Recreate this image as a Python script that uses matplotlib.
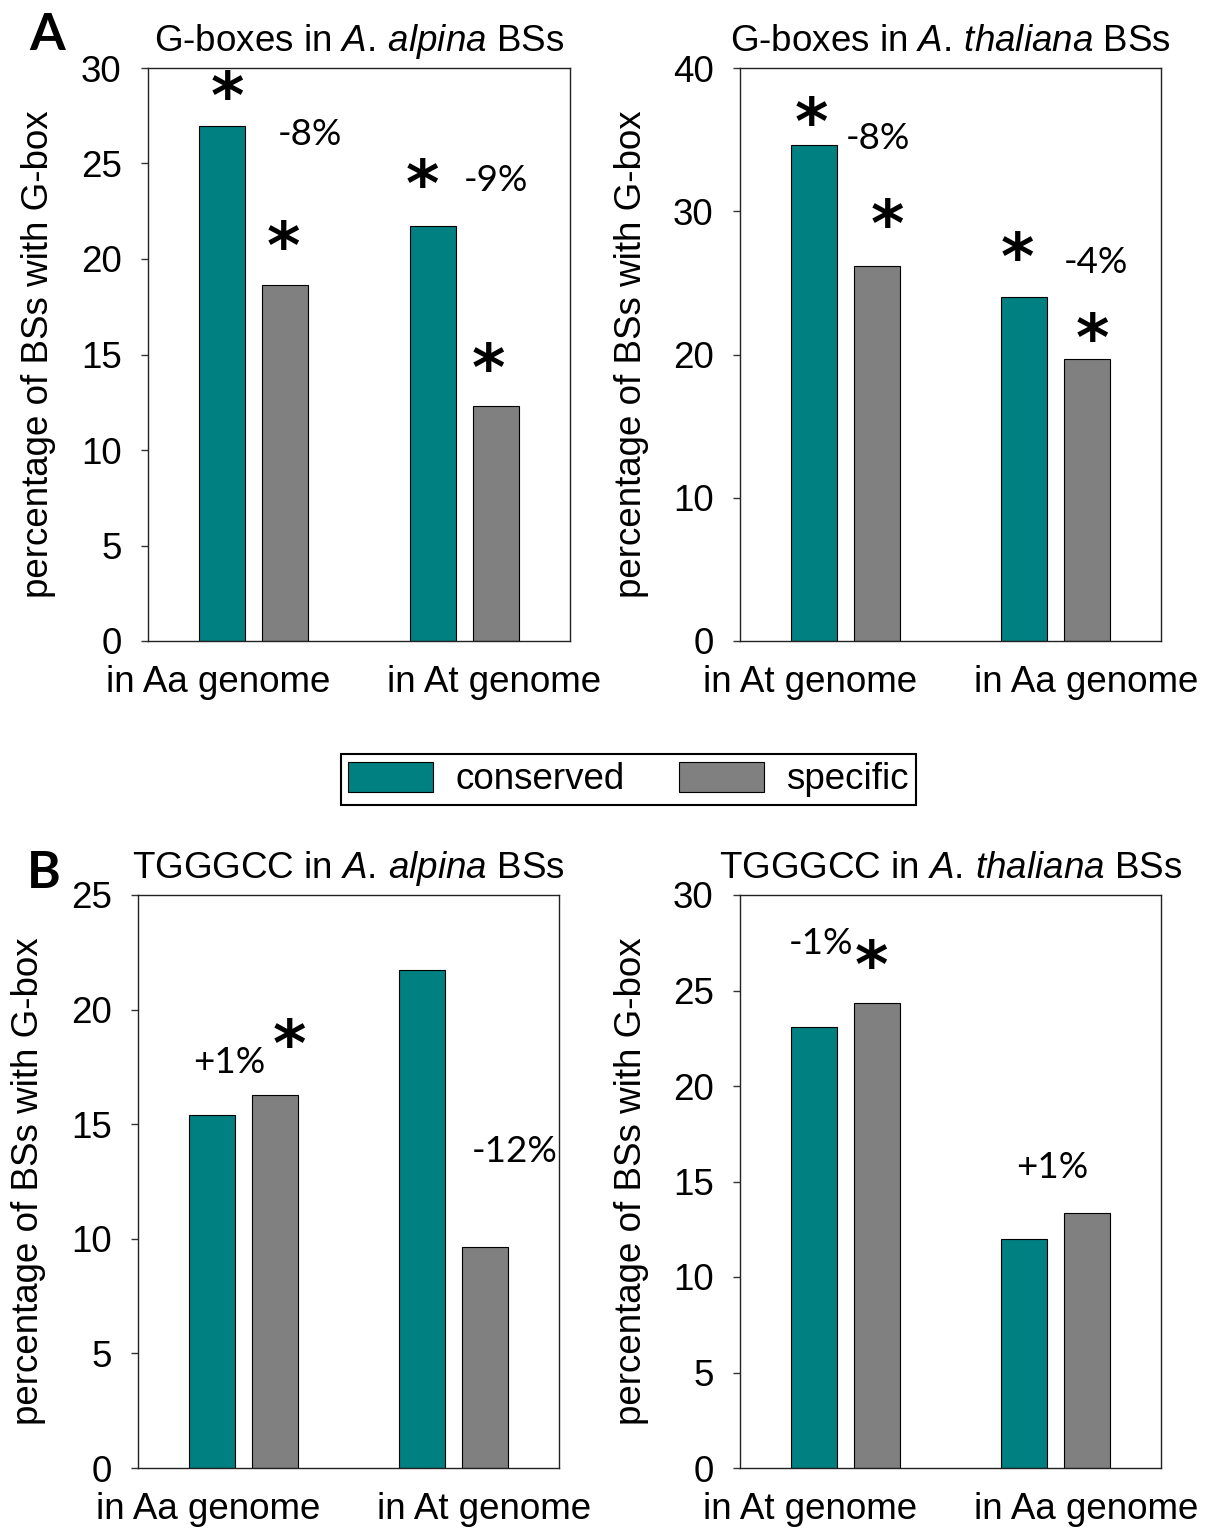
import matplotlib
matplotlib.use("Agg")
import matplotlib.pyplot as plt
import matplotlib.transforms as mtransforms
from matplotlib.patches import Patch

plt.rcParams['font.family'] = ['Liberation Sans', 'DejaVu Sans']
plt.rcParams['mathtext.fontset'] = 'custom'
plt.rcParams['mathtext.rm'] = 'Liberation Sans'
plt.rcParams['mathtext.it'] = 'Liberation Sans:italic'

# ---- data -------------------------------------------------------------
cats_aa_first = ["in Aa genome", "in At genome"]
cats_at_first = ["in At genome", "in Aa genome"]

# G-boxes in A. alpina binding sites
gbox_alp_conserved = [26.94, 21.75]
gbox_alp_specific = [18.62, 12.29]
gbox_alp_diff = ["-8%", "-9%"]

# G-boxes in A. thaliana binding sites
gbox_tha_conserved = [34.61, 23.99]
gbox_tha_specific = [26.21, 19.66]
gbox_tha_diff = ["-8%", "-4%"]

# TGGGCC in A. alpina binding sites
tg_alp_conserved = [15.38, 21.72]
tg_alp_specific = [16.28, 9.64]
tg_alp_diff = ["+1%", "-12%"]

# TGGGCC in A. thaliana binding sites
tg_tha_conserved = [23.08, 11.98]
tg_tha_specific = [24.34, 13.36]
tg_tha_diff = ["-1%", "+1%"]

# significance stars (conserved, specific) per category
gbox_alp_sig = [[True, True], [True, True]]
gbox_tha_sig = [[True, True], [True, True]]
tg_alp_sig = [[False, True], [False, False]]
tg_tha_sig = [[False, True], [False, False]]

TEAL = "#008080"
GREY = "#808080"
FS = 26.5
W, H = 1210, 1528

fig = plt.figure(figsize=(W / 100, H / 100), dpi=100)


def px_axes(left, top, width, height):
    return fig.add_axes([left / W, (H - top - height) / H, width / W, height / H])


def draw_panel(ax, cats, cons, spec, ymax, ystep, title, diffs, diff_offsets,
               sig, star_offsets, label_shift):
    x = range(len(cats))
    xc = [i - 0.15 for i in x]
    xs = [i + 0.15 for i in x]
    ax.bar(xc, cons, width=0.22, color=TEAL, edgecolor="black", linewidth=0.8, zorder=2)
    ax.bar(xs, spec, width=0.22, color=GREY, edgecolor="black", linewidth=0.8, zorder=2)
    ax.set_xlim(-0.5, 1.5)
    ax.set_ylim(0, ymax)
    ax.set_yticks(range(0, ymax + 1, ystep))
    ax.set_xticks(list(x))
    ax.set_xticklabels(cats)
    ax.tick_params(axis='y', direction='out', length=5, width=1.0, pad=14,
                   labelsize=FS, color="#333333")
    ax.tick_params(axis='x', length=0, pad=17, labelsize=FS)
    for lab, dx in zip(ax.get_xticklabels(), label_shift):
        lab.set_transform(lab.get_transform() +
                          mtransforms.ScaledTranslation(dx / 100, 0, fig.dpi_scale_trans))
    for s in ax.spines.values():
        s.set_linewidth(1.0)
        s.set_color("#222222")
    ax.set_title(title, fontsize=FS, pad=12)
    ax.text(-109 / 421, 0.5, "percentage of BSs with G-box", transform=ax.transAxes,
            rotation=90, ha='center', va='center', fontsize=FS)

    # significance stars
    k = 0
    for i in range(len(cats)):
        for j, (xx, val) in enumerate(((xc[i], cons[i]), (xs[i], spec[i]))):
            if sig[i][j]:
                dx, dy = star_offsets[k]
                ax.annotate("*", xy=(xx, val), xytext=(dx, dy), textcoords='offset pixels',
                            ha='center', va='center', fontsize=46, fontweight='bold',
                            family='DejaVu Sans', annotation_clip=False)
                k += 1
    # percentage differences
    for i in range(len(cats)):
        dx, dy = diff_offsets[i]
        ax.annotate(diffs[i], xy=(xc[i], cons[i]), xytext=(dx, dy), textcoords='offset pixels',
                    ha='center', va='center', fontsize=FS, family='Lato',
                    annotation_clip=False)


ax1 = px_axes(148, 68, 422, 573)
draw_panel(ax1, cats_aa_first, gbox_alp_conserved, gbox_alp_specific, 30, 5,
           r"G-boxes in $\mathit{A.\,alpina}$ BSs", gbox_alp_diff,
           [(88, -8), (63, 45)], gbox_alp_sig,
           [(5, 26), (-2, 35), (-11, 38), (-8, 34)], [-35, 30])

ax2 = px_axes(740, 68, 421, 573)
draw_panel(ax2, cats_at_first, gbox_tha_conserved, gbox_tha_specific, 40, 10,
           r"G-boxes in $\mathit{A.\,thaliana}$ BSs", gbox_tha_diff,
           [(64, 7), (72, 35)], gbox_tha_sig,
           [(-2, 19), (11, 38), (-7, 36), (5, 17)], [-35, 30])

ax3 = px_axes(138, 895, 421, 573)
draw_panel(ax3, cats_aa_first, tg_alp_conserved, tg_alp_specific, 25, 5,
           r"TGGGCC in $\mathit{A.\,alpina}$ BSs", tg_alp_diff,
           [(18, 53), (93, -181)], tg_alp_sig,
           [(15, 47)], [-35, 30])

ax4 = px_axes(740, 895, 421, 573)
draw_panel(ax4, cats_at_first, tg_tha_conserved, tg_tha_specific, 30, 5,
           r"TGGGCC in $\mathit{A.\,thaliana}$ BSs", tg_tha_diff,
           [(7, 84), (28, 72)], tg_tha_sig,
           [(-5, 34)], [-35, 30])

# panel letters
fig.text(47 / W, 1 - 36 / H, "A", fontsize=37, fontweight='bold', family='Lato',
         ha='center', va='center')
fig.text(44 / W, 1 - 874 / H, "B", fontsize=37, fontweight='bold', family='Lato',
         ha='center', va='center')

# shared legend
handles = [Patch(facecolor=TEAL, edgecolor="black", linewidth=0.8, label="conserved"),
           Patch(facecolor=GREY, edgecolor="black", linewidth=0.8, label="specific")]
leg = fig.legend(handles=handles, loc='center', bbox_to_anchor=(628.6 / W, 1 - 779.6 / H),
                 ncol=2, fontsize=FS, frameon=True, fancybox=False, framealpha=1,
                 edgecolor="black", handlelength=2.31, handleheight=0.87,
                 handletextpad=0.61, columnspacing=1.47, borderpad=0.2)
leg.get_frame().set_linewidth(1.5)

fig.savefig("out.png", dpi=100)
